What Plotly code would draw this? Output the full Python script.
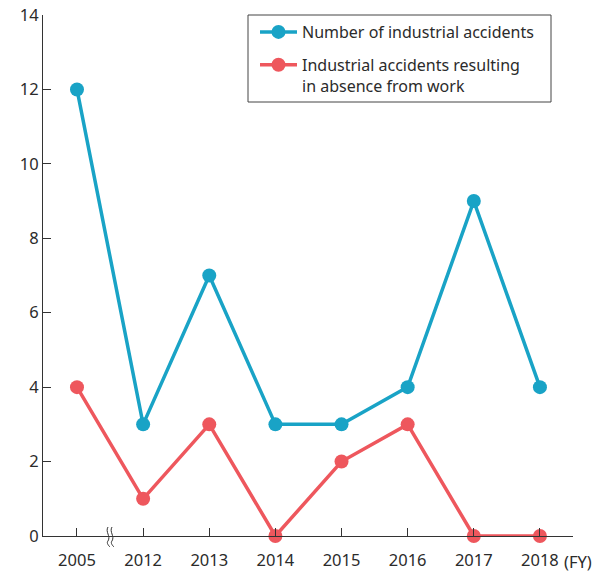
import plotly.graph_objects as go

years = ["2005", "2012", "2013", "2014", "2015", "2016", "2017", "2018"]
total_accidents = [12, 3, 7, 3, 3, 4, 9, 4]
absence_accidents = [4, 1, 3, 0, 2, 3, 0, 0]
y_ticks = [0, 2, 4, 6, 8, 10, 12, 14]

BLUE = "#19a3c6"
RED = "#ee575d"
FONT = "Noto Sans"
TXT = "#2b2b2b"

xs = list(range(len(years)))

fig = go.Figure()
fig.add_trace(go.Scatter(
    x=xs, y=total_accidents, mode="lines+markers",
    name="Number of industrial accidents", legendgroup="a",
    line=dict(color=BLUE, width=3.5),
    marker=dict(color=BLUE, size=14),
    cliponaxis=False,
))
fig.add_trace(go.Scatter(
    x=xs, y=absence_accidents, mode="lines+markers",
    name="Industrial accidents resulting<br>in absence from work", legendgroup="b",
    line=dict(color=RED, width=3.5),
    marker=dict(color=RED, size=14),
    cliponaxis=False,
))

# page body adds an 8px offset; figure sized to fit the window
OFF = 8
W, H = 606 - OFF, 572 - OFF
ml, mr, mt, mb = 35, 33, 7, 36
pw = W - ml - mr
ph = H - mt - mb


def px(xs_):
    return (xs_ - OFF - ml) / pw


def py(ys_):
    return (H - mb - (ys_ - OFF)) / ph


fig.update_layout(
    width=W, height=H,
    margin=dict(l=ml, r=mr, t=mt, b=mb, autoexpand=False),
    paper_bgcolor="white", plot_bgcolor="white",
    font=dict(family=FONT, size=16.5, color=TXT),
    showlegend=True,
    legend=dict(
        x=px(255), y=1, xanchor="left", yanchor="top",
        borderwidth=0, bgcolor="rgba(0,0,0,0)",
        font=dict(family=FONT, size=16, color=TXT),
        traceorder="grouped", tracegroupgap=9,
        itemwidth=37, valign="top",
    ),
    xaxis=dict(
        range=[-0.514, 7.5],
        tickmode="array", tickvals=xs, ticktext=years,
        ticks="inside", ticklen=8, tickcolor="#333333",
        showline=True, linecolor="#333333", linewidth=1.2,
        showgrid=False, zeroline=False, automargin=False,
        ticklabelstandoff=9,
        tickfont=dict(family=FONT, size=16.5, color=TXT),
    ),
    yaxis=dict(
        range=[0, 14],
        tickmode="array", tickvals=y_ticks,
        ticks="inside", ticklen=8, tickcolor="#333333",
        showline=True, linecolor="#333333", linewidth=1.2,
        showgrid=False, zeroline=False, automargin=False,
        ticklabeloverflow="allow",
        tickfont=dict(family=FONT, size=16.5, color=TXT),
    ),
)

# legend frame
fig.add_shape(type="rect", xref="paper", yref="paper",
              x0=px(248), x1=px(551), y0=py(102), y1=py(15),
              line=dict(color="#444444", width=1), fillcolor="rgba(0,0,0,0)")

# (FY) label
fig.add_annotation(
    xref="paper", yref="paper",
    x=px(562), y=py(561),
    text="(FY)", showarrow=False, xanchor="left", yanchor="middle",
    font=dict(family=FONT, size=16.5, color=TXT),
)

# axis break symbol
path = ""
for off in (0, 4):
    x0 = 108 + off
    path += (f"M {px(x0)},{py(527)} "
             f"C {px(x0 - 3)},{py(532)} {px(x0 + 3)},{py(536)} {px(x0)},{py(541)} "
             f"C {px(x0 - 2)},{py(543)} {px(x0 + 1)},{py(546)} {px(x0 + 2)},{py(547)} ")
fig.add_shape(type="path", xref="paper", yref="paper", path=path,
              line=dict(color="#333333", width=1))

fig.write_html("out.html")
